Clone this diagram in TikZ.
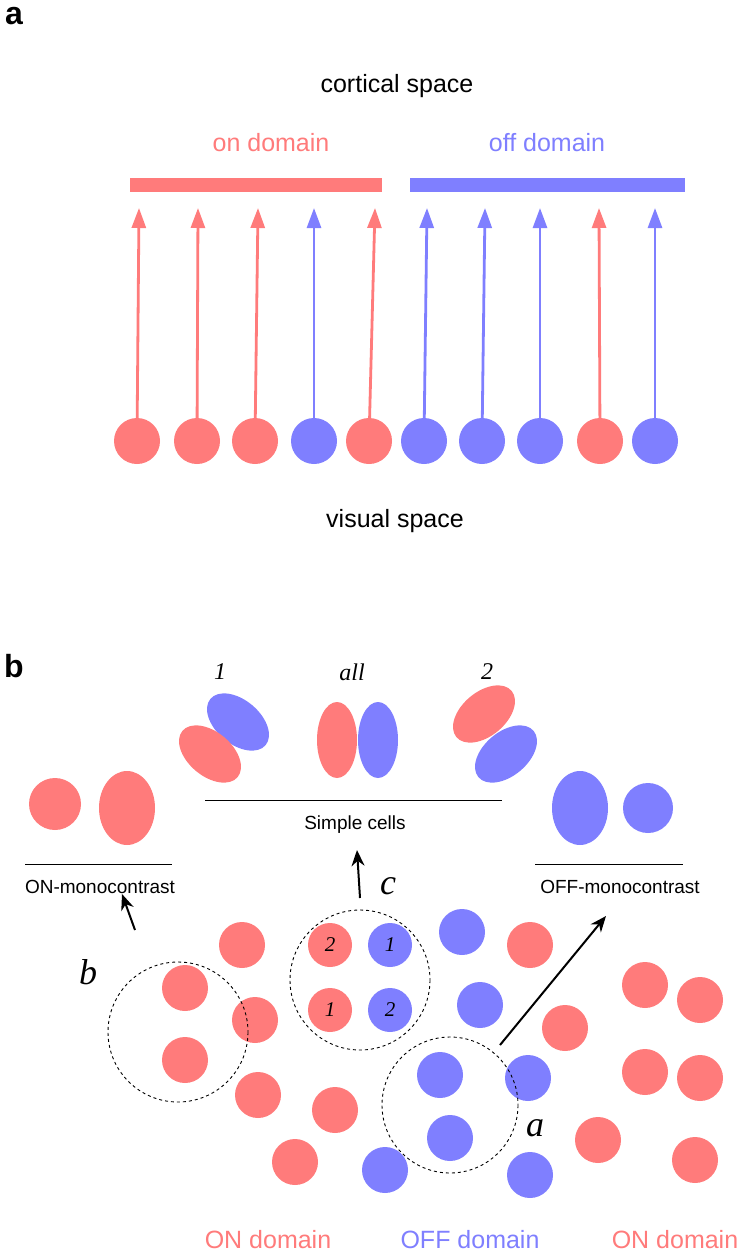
\documentclass[tikz,border=0pt]{standalone}
\usepackage{fontspec}
\setmainfont{Liberation Sans}
\newfontfamily\serifit{Liberation Serif}
\usetikzlibrary{arrows.meta}
\definecolor{pk}{HTML}{FF7B7B}
\definecolor{bl}{HTML}{7F7FFF}
\begin{document}
\begin{tikzpicture}[x=1pt,y=-1pt,
 dot/.style={circle,fill=#1,minimum size=46pt,inner sep=0pt},
 dot2/.style={circle,fill=#1,minimum size=44pt,inner sep=0pt,font=\serifit\itshape\fontsize{21}{21}\selectfont},
 arr/.style={draw=#1,line width=2.8pt,-{Triangle[length=20pt,width=14pt]}},
 ttl/.style={font=\fontsize{25}{25}\selectfont},
 lab/.style={font=\fontsize{19}{19}\selectfont},
 it/.style={font=\serifit\itshape\fontsize{#1}{#1}\selectfont},
 dsh/.style={draw,dashed,line width=0.9pt},
 blk/.style={draw,line width=2pt,-{Stealth[length=16pt,width=13pt]}}]
\useasboundingbox (0,0) rectangle (745,1252);
\node[font=\bfseries\fontsize{32}{32}\selectfont] (la) at (14,16) {a};
\node[ttl] (cs) at (397,86) {cortical space};
\node[ttl,text=pk] (on) at (271,143) {on domain};
\node[ttl,text=bl] (off) at (547,143) {off domain};
\fill[pk] (130,178) rectangle (382,192);
\fill[bl] (410,178) rectangle (685,192);
\foreach \x/\t/\c [count=\i] in {137/139/pk,197/198/pk,255/258/pk,314/314/bl,369/375/pk,424/427/bl,482/485/bl,540/540/bl,600/599/pk,655/655/bl}{
  \node[dot=\c] (v\i) at (\x,441) {};
  \coordinate (t\i) at (\t,208);
  \draw[arr=\c] (v\i.center) -- (t\i);
}
\node[ttl] (vs) at (395,521) {visual space};
\node[font=\bfseries\fontsize{32}{32}\selectfont] (lb) at (14,666) {b};
\node[it=24] (n1) at (220,672) {1};
\node[it=24] (nall) at (352,672) {all};
\node[it=24] (n2) at (487,672) {2};
\fill[bl,rotate around={-40:(238,722)}] (238,722) ellipse (36 and 22);
\fill[pk,rotate around={-40:(210,754)}] (210,754) ellipse (36 and 22);
\fill[pk] (337,740) ellipse (20 and 38);
\fill[bl] (378,740) ellipse (20 and 38);
\fill[pk,rotate around={40:(484,714)}] (484,714) ellipse (36 and 22);
\fill[bl,rotate around={40:(506,754)}] (506,754) ellipse (36 and 22);
\draw (205,800) -- (502,800);
\node[lab] (sc) at (355,825) {Simple cells};
\fill[pk] (55,804) circle (26);
\fill[pk] (127,808) ellipse (28 and 37);
\draw (25,864) -- (172,864);
\node[lab] (onm) at (100,887) {ON-monocontrast};
\fill[bl] (580,808) ellipse (28 and 37);
\fill[bl] (648,808) circle (25);
\draw (535,864) -- (683,864);
\node[lab] (offm) at (620,887) {OFF-monocontrast};
\foreach \x/\y [count=\i] in {242/945,185/988,255/1020,185/1060,258/1095,335/1110,295/1162,530/945,565/1028,645/985,700/1000,645/1072,700/1078,598/1140,695/1160}
  \node[dot=pk] (p\i) at (\x,\y) {};
\foreach \x/\y [count=\i] in {462/932,480/1005,440/1075,528/1078,450/1138,385/1170,530/1175}
  \node[dot=bl] (b\i) at (\x,\y) {};
\node[dot2=pk] (c1) at (330,945) {2};
\node[dot2=bl] (c2) at (390,945) {1};
\node[dot2=pk] (c3) at (330,1010) {1};
\node[dot2=bl] (c4) at (390,1010) {2};
\draw[dsh] (360,980) circle (70);
\draw[dsh] (178,1032) circle (70);
\draw[dsh] (450,1105) circle (68);
\coordinate (ca0) at (360,898); \coordinate (ca1) at (357,850);
\draw[blk] (ca0) -- (ca1);
\node[it=36] (lc) at (388,886) {c};
\coordinate (cb0) at (135,930); \coordinate (cb1) at (122,894);
\draw[blk] (cb0) -- (cb1);
\node[it=36] (lbb) at (88,972) {b};
\coordinate (cc0) at (500,1045); \coordinate (cc1) at (606,916);
\draw[blk] (cc0) -- (cc1);
\node[it=36] (lca) at (535,1128) {a};
\node[ttl,text=pk] (d1) at (268,1240) {ON domain};
\node[ttl,text=bl] (d2) at (470,1240) {OFF domain};
\node[ttl,text=pk] (d3) at (675,1240) {ON domain};
\end{tikzpicture}
\end{document}
